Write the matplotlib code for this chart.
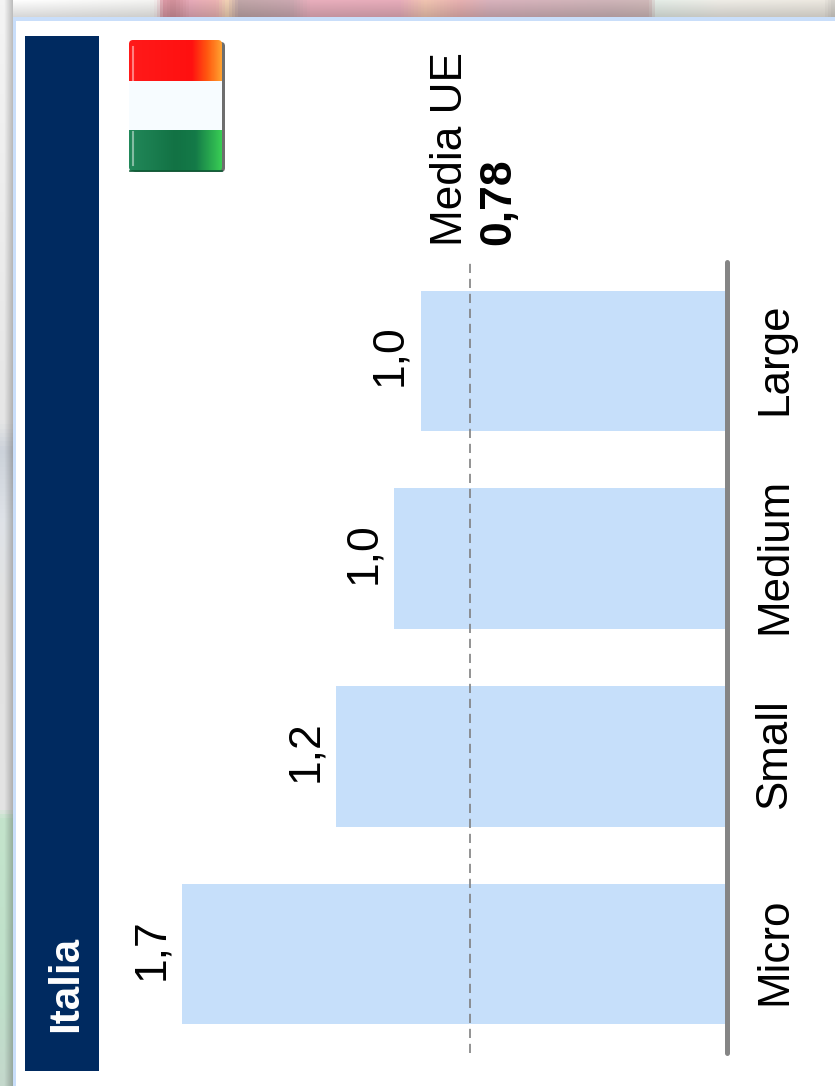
import numpy as np
import matplotlib
matplotlib.use('Agg')
import matplotlib.pyplot as plt
from matplotlib.patches import Rectangle, FancyBboxPatch
from matplotlib.colors import LinearSegmentedColormap
from matplotlib.transforms import ScaledTranslation

plt.rcParams['font.family'] = ['Liberation Sans', 'DejaVu Sans']

W, H = 835, 1086

categories = ['Micro', 'Small', 'Medium', 'Large']
values = [1.653, 1.186, 1.01, 0.93]
value_labels = ['1,7', '1,2', '1,0', '1,0']
eu_average = 0.78
eu_label = '0,78'

fig = plt.figure(figsize=(W / 100, H / 100), dpi=100, facecolor='white')


def px_axes(x0, y0, x1, y1):
    # axes from pixel box, y counted from the top of the picture
    return fig.add_axes([x0 / W, 1 - y1 / H, (x1 - x0) / W, (y1 - y0) / H])


# blurred slide behind the panel, only the top and left edges show
bg = px_axes(0, 0, W, H)
bg.set_xlim(0, W)
bg.set_ylim(H, 0)
bg.axis('off')

top_stops = [(0, '#ffffff'), (150, '#f4f4f2'), (156, '#f0e6e6'), (162, '#dc9aa6'),
             (172, '#cf8e98'), (190, '#e6aab8'), (215, '#eab2b2'), (226, '#f0d0b4'),
             (238, '#c0a6a8'), (290, '#caa8b0'), (310, '#e8aebc'), (400, '#e6acba'),
             (425, '#f0c4b0'), (460, '#e6b0b0'), (490, '#d8b2bc'), (610, '#ceb4b8'),
             (650, '#cfb8b8'), (658, '#e4ece6'), (700, '#eaece6'), (720, '#eeece6'),
             (825, '#ece8e0'), (835, '#d6d2cc')]
top_cmap = LinearSegmentedColormap.from_list(
    'top', [(p / W, c) for p, c in top_stops])
top_img = top_cmap(np.linspace(0, 1, W))[None, :, :3].repeat(18, axis=0)
# darker toward the panel edge, most visible over the white left part
fade = np.linspace(1.0, 0.84, 18)[:, None, None]
top_img = top_img * fade
bg.imshow(top_img, extent=(0, W, 18, 0), aspect='auto', zorder=1)

left_stops = [(0, '#f4f4f4'), (420, '#e6e6e6'), (450, '#ccd2da'), (520, '#dfe3e8'),
              (600, '#e2e2e2'), (810, '#e4e4e4'), (820, '#c4e4cc'), (1000, '#bfe0ca'),
              (1086, '#c4d8cc')]
left_cmap = LinearSegmentedColormap.from_list(
    'left', [(p / H, c) for p, c in left_stops])
left_img = left_cmap(np.linspace(0, 1, H))[:, None, :3].repeat(13, axis=1)
left_img = left_img * np.clip(np.linspace(1.1, 0.78, 13), 0, 1)[None, :, None]
bg.imshow(left_img, extent=(0, 13, H, 0), aspect='auto', zorder=2)
bg.set_xlim(0, W)
bg.set_ylim(H, 0)

# panel with its pale blue border
bg.add_patch(Rectangle((13, 17), W, H, fc='#c9defa', ec='none', zorder=3))
bg.add_patch(Rectangle((16, 21), W, H, fc='white', ec='none', zorder=4))

# title band
bg.add_patch(Rectangle((25, 36), 74, 1035, fc='#002A60', ec='none', zorder=5))
bg.text(66, 984, 'Italia', rotation=90, ha='center', va='center', color='white',
        fontsize=30.3, fontweight='bold', zorder=6)

# flag, drawn rotated like the rest of the slide
bg.add_patch(FancyBboxPatch((132, 42), 93, 130, boxstyle='round,pad=0,rounding_size=4',
                            fc='#6e6e6e', ec='none', zorder=5))
red = LinearSegmentedColormap.from_list(
    'r', [(0, '#ff1a1a'), (0.68, '#ff1010'), (0.85, '#ff5a10'), (1, '#ffa030')])
green = LinearSegmentedColormap.from_list(
    'g', [(0, '#22885a'), (0.5, '#127244'), (0.72, '#147a48'), (1, '#38cc54')])
ramp = np.linspace(0, 1, 90)[None, :]
flag_parts = []
flag_parts.append(bg.imshow(red(ramp), extent=(129, 222, 81, 40), aspect='auto', zorder=6))
flag_parts.append(bg.imshow(np.ones((1, 1, 3)) * [0.97, 0.99, 1.0],
                            extent=(129, 222, 130, 81), aspect='auto', zorder=6))
flag_parts.append(bg.imshow(green(ramp), extent=(129, 222, 171, 130), aspect='auto', zorder=6))
clip = FancyBboxPatch((129, 40), 93, 131, boxstyle='round,pad=0,rounding_size=4',
                      fc='none', ec='none', transform=bg.transData)
bg.add_patch(clip)
for part in flag_parts:
    part.set_clip_path(clip)
bg.plot([133, 133], [47, 80], color='white', alpha=0.45, lw=1.5, zorder=7)
bg.plot([133, 133], [132, 165], color='white', alpha=0.45, lw=1.5, zorder=7)
bg.plot([129.5, 221.5], [170.5, 170.5], color='#0c5a34', lw=1.2, zorder=7)
bg.set_xlim(0, W)
bg.set_ylim(H, 0)

# horizontal bars growing to the left from the base line
ax = px_axes(102, 262, 727.5, 1053)
ax.patch.set_alpha(0)
pos = np.arange(len(categories))
ax.barh(pos, values, height=0.71, color='#C6DFFA', zorder=1)
ax.set_xlim(625.5 / 330, 0)
ax.set_ylim(-0.5, 3.5)
ax.axvline(eu_average, color='#808080', lw=1.2, dashes=(5.5, 3.5), zorder=2)
ax.axvline(0, color='#858585', lw=3.6, solid_capstyle='round', clip_on=False, zorder=3)
for s in ax.spines.values():
    s.set_visible(False)
ax.set_xticks([])
ax.set_yticks(pos)
ax.set_yticklabels(categories, rotation=90, va='center', fontsize=31.6)
ax.tick_params(axis='y', length=0, left=False, labelleft=False, right=False,
               labelright=True, pad=19)
nudge = ScaledTranslation(0, 2.5 / 100, fig.dpi_scale_trans)
for lab in ax.get_yticklabels():
    lab.set_transform(lab.get_transform() + nudge)

for p, v, lab in zip(pos, values, value_labels):
    ax.annotate(lab, (v, p), xytext=(-10, 5.5), textcoords='offset pixels', rotation=90,
                ha='right', va='center', fontsize=32)

bg.text(450, 149, 'Media UE', rotation=90, ha='center', va='center', fontsize=31.8, zorder=6)
bg.text(499, 202, eu_label, rotation=90, ha='center', va='center', fontsize=32,
        fontweight='bold', zorder=6)

fig.savefig('out.png', dpi=100)
